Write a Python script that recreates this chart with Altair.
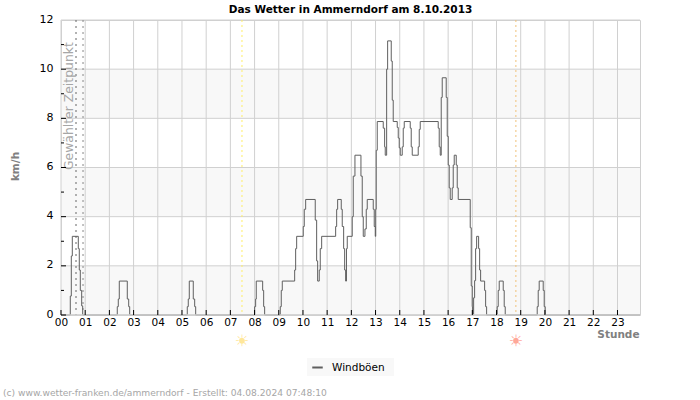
import altair as alt
import pandas as pd

FONT = "DejaVu Sans"

gust_hours = [
    0.0, 0.384, 0.426, 0.467, 0.715, 0.756, 0.798, 0.855, 0.897,
    2.326, 2.368, 2.409, 2.740, 2.798, 2.839,
    5.219, 5.260, 5.302, 5.467, 5.525, 5.566,
    8.004, 8.045, 8.070, 8.335, 8.376, 8.417,
    9.062, 9.103, 9.145, 9.657, 9.698, 9.740, 10.012, 10.054, 10.112,
    10.508, 10.566, 10.607, 10.674, 10.715, 10.773,
    11.351, 11.393, 11.434, 11.583, 11.624, 11.682, 11.723, 11.764, 11.798, 11.831,
    12.037, 12.079, 12.149, 12.397, 12.450, 12.492, 12.562, 12.616, 12.657,
    12.905, 12.946, 12.988, 13.008, 13.029, 13.070, 13.318, 13.376, 13.401,
    13.459, 13.500, 13.649, 13.690, 13.731, 13.897, 13.938, 13.979, 14.021,
    14.103, 14.145, 14.186, 14.434, 14.475, 14.517, 14.764, 14.806, 14.847,
    15.591, 15.632, 15.674, 15.715, 15.756, 15.921, 15.963, 16.004, 16.045, 16.087,
    16.169, 16.211, 16.252, 16.335, 16.376, 16.417, 16.913, 16.955, 16.996, 17.012,
    17.054, 17.095, 17.136, 17.178, 17.260, 17.302, 17.343, 17.508, 17.550, 17.591,
    18.029, 18.070, 18.112, 18.277, 18.318, 18.360,
    19.682, 19.723, 19.764, 19.930, 19.971, 20.012, 23.93,
]
gust_kmh = [
    0.0, 0.77, 2.4, 3.2, 2.7, 1.83, 1.0, 0.37, 0.0,
    0.34, 0.65, 1.38, 0.65, 0.34, 0.0,
    0.34, 0.65, 1.38, 0.65, 0.34, 0.0,
    0.34, 0.65, 1.38, 1.0, 0.34, 0.0,
    0.34, 1.0, 1.38, 1.83, 2.7, 3.2, 3.6, 4.3, 4.7,
    3.86, 2.2, 1.38, 1.83, 2.7, 3.2,
    3.6, 4.3, 4.7, 4.3, 3.6, 2.7, 1.83, 1.38, 2.7, 3.2,
    4.0, 5.65, 6.5, 5.65, 4.0, 3.2, 3.5, 4.3, 4.7,
    4.3, 3.6, 3.2, 4.3, 6.7, 7.87, 7.6, 6.84, 6.5,
    10.0, 11.15, 10.33, 8.74, 7.87, 7.63, 7.2, 6.8, 6.5,
    6.84, 7.6, 7.87, 7.6, 6.84, 6.5, 6.84, 7.55, 7.87,
    7.6, 6.84, 6.5, 8.85, 9.65, 8.85, 7.27, 6.1, 5.17, 4.7,
    5.17, 6.1, 6.5, 6.1, 5.17, 4.7, 3.55, 1.18, 0.34, 0.0,
    0.7, 1.4, 2.7, 3.2, 2.7, 1.83, 1.38, 1.0, 0.34, 0.0,
    0.34, 1.0, 1.38, 1.0, 0.34, 0.0,
    0.34, 1.0, 1.38, 1.0, 0.34, 0.0, 0.0,
]
series_name = "Windböen"

hour_ticks = list(range(24))
kmh_major = [0, 2, 4, 6, 8, 10, 12]
kmh_minor = [1, 3, 5, 7, 9, 11]
band_low = [0, 4, 8]
band_high = [2, 6, 10]

selected_times = [0.62, 0.91]
sunrise = 7.48
sunset = 18.8

chart_title = "Das Wetter in Ammerndorf am 8.10.2013"
selected_label = "Gewählter Zeitpunkt"
footer = "(c) www.wetter-franken.de/ammerndorf - Erstellt: 04.08.2024 07:48:10"

WIDTH = 579
HEIGHT = 295
GRID = "#d0d0d0"
x_scale = alt.Scale(domain=[0, 23.93], nice=False, zero=False)
y_scale = alt.Scale(domain=[0, 12], nice=False)

# Every layer shares the same axis definition so Vega-Lite keeps one axis per channel.
x_axis = alt.Axis(
    values=hour_ticks,
    labelExpr="(datum.value < 10 ? '0' : '') + datum.value",
    ticks=False,
    domain=False,
    grid=False,
    labelPadding=2,
    labelFont=FONT,
    labelFontSize=10.5,
    labelColor="#000000",
    labelFlush=False,
    labelOverlap=False,
    labelBound=False,
    title="Stunde",
    titleFont=FONT,
    titleFontSize=10.5,
    titleFontWeight="bold",
    titleColor="#808080",
    titleAnchor="end",
    titleAlign="right",
    titleBaseline="middle",
    titleX=578,
    titleY=19,
)
y_axis = alt.Axis(
    values=kmh_major,
    ticks=False,
    domain=False,
    grid=False,
    labelPadding=8,
    labelOffset=-1,
    labelFont=FONT,
    labelFontSize=11,
    labelColor="#000000",
    labelFlush=False,
    labelBound=False,
    labelOverlap=False,
    title="km/h",
    titleFont=FONT,
    titleFontSize=10.5,
    titleFontWeight="bold",
    titleColor="#808080",
    titleAngle=270,
    titleAlign="center",
    titleBaseline="middle",
    titleX=-46,
    titleY=146,
)


def hour_x(field="hour:Q"):
    return alt.X(field, scale=x_scale, axis=x_axis)


def kmh_y(field="kmh:Q"):
    return alt.Y(field, scale=y_scale, axis=y_axis)


gust_frame = pd.DataFrame({"hour": gust_hours, "kmh": gust_kmh, "series": series_name})

bands = alt.Chart(pd.DataFrame({"kmh": band_low, "high": band_high})).mark_rect(color="#f8f8f8").encode(
    y=kmh_y(), y2="high:Q"
)
grid_h = alt.Chart(pd.DataFrame({"kmh": kmh_major})).mark_rule(color=GRID, strokeWidth=1).encode(y=kmh_y())
grid_v = alt.Chart(pd.DataFrame({"hour": hour_ticks})).mark_rule(color=GRID, strokeWidth=1).encode(x=hour_x())

selected_rules = alt.Chart(pd.DataFrame({"hour": selected_times, "tone": ["#666666", "#888888"]})).mark_rule(
    strokeWidth=1, strokeDash=[2, 4]
).encode(x=hour_x(), color=alt.Color("tone:N", scale=None, legend=None))

sunrise_rule = alt.Chart(pd.DataFrame({"hour": [sunrise]})).mark_rule(
    color="#ffee66", strokeWidth=1, strokeDash=[2, 3]
).encode(x=hour_x())

sunset_rule = alt.Chart(pd.DataFrame({"hour": [sunset]})).mark_rule(
    color="#f0c27a", strokeWidth=1, strokeDash=[2, 3]
).encode(x=hour_x())

selected_text = alt.Chart(pd.DataFrame({"t": [selected_label]})).mark_text(
    font=FONT, fontSize=12.4, color="#a6a6a6", angle=270, align="left", baseline="middle"
).encode(x=alt.value(8), y=alt.value(150), text="t:N")

# Backing panel for the legend, which sits below the plot area.
legend_panel = alt.Chart(pd.DataFrame({"t": [series_name]})).mark_rect(color="#f8f8f8", clip=False).encode(
    x=alt.value(246), x2=alt.value(333), y=alt.value(338), y2=alt.value(356)
)

gust_line = alt.Chart(gust_frame).mark_line(interpolate="step-after", strokeWidth=1).encode(
    x=hour_x(),
    y=kmh_y(),
    color=alt.Color(
        "series:N",
        scale=alt.Scale(domain=[series_name], range=["#5f5f5f"]),
        legend=alt.Legend(
            title=None,
            orient="none",
            legendX=246,
            legendY=337,
            padding=4,
            symbolType="stroke",
            symbolSize=110,
            symbolStrokeWidth=2,
            labelFont=FONT,
            labelFontSize=10.5,
            labelColor="#000000",
            labelOffset=8,
        ),
    ),
)

# The zero line sits over the gust trace, so calm periods show no dark stroke.
baseline = alt.Chart(pd.DataFrame({"kmh": [0]})).mark_rule(color=GRID, strokeWidth=1.5).encode(y=kmh_y())

x_ticks = alt.Chart(pd.DataFrame({"hour": hour_ticks})).mark_rule(color="#000000", strokeWidth=1).encode(
    x=hour_x(), y=alt.value(HEIGHT - 5), y2=alt.value(HEIGHT)
)
y_ticks = alt.Chart(pd.DataFrame({"kmh": kmh_major[:-1]})).mark_rule(color="#000000", strokeWidth=1).encode(
    y=kmh_y(), x=alt.value(0), x2=alt.value(5)
)
y_minor_ticks = alt.Chart(pd.DataFrame({"kmh": kmh_minor})).mark_rule(color="#000000", strokeWidth=1).encode(
    y=kmh_y(), x=alt.value(0), x2=alt.value(3)
)

sun_frame = pd.DataFrame({"hour": [sunrise, sunset], "tone": ["#ffe79a", "#ffa898"]})
sun_rays = alt.Chart(sun_frame).mark_text(
    text="☀", font=FONT, fontSize=16, align="center", baseline="middle"
).encode(
    x=hour_x(),
    y=alt.value(321),
    color=alt.Color("tone:N", scale=None, legend=None),
)
sun_cores = alt.Chart(sun_frame).mark_point(filled=True, size=28, opacity=1).encode(
    x=hour_x(),
    y=alt.value(321),
    color=alt.Color("tone:N", scale=None, legend=None),
)

footer_text = alt.Chart(pd.DataFrame({"t": [footer]})).mark_text(
    font=FONT, fontSize=9.15, color="#a6a6a6", align="left", baseline="middle"
).encode(x=alt.value(-58), y=alt.value(373), text="t:N")

chart = alt.layer(
    bands, grid_h, grid_v, selected_rules, sunrise_rule, sunset_rule, selected_text, legend_panel,
    gust_line, baseline, x_ticks, y_ticks, y_minor_ticks, sun_rays, sun_cores, footer_text,
).resolve_scale(color="independent").properties(
    width=WIDTH,
    height=HEIGHT,
    autosize=alt.AutoSizeParams(type="none"),
    padding={"left": 61, "top": 20, "right": 60, "bottom": 85},
    title=alt.TitleParams(
        chart_title, font=FONT, fontSize=10.5, fontWeight="bold", color="#000000",
        anchor="middle", offset=-2,
    ),
    background="#ffffff",
).configure_view(stroke=GRID, strokeWidth=1)

chart.save("out.html", embed_options={"renderer": "svg", "actions": False})
